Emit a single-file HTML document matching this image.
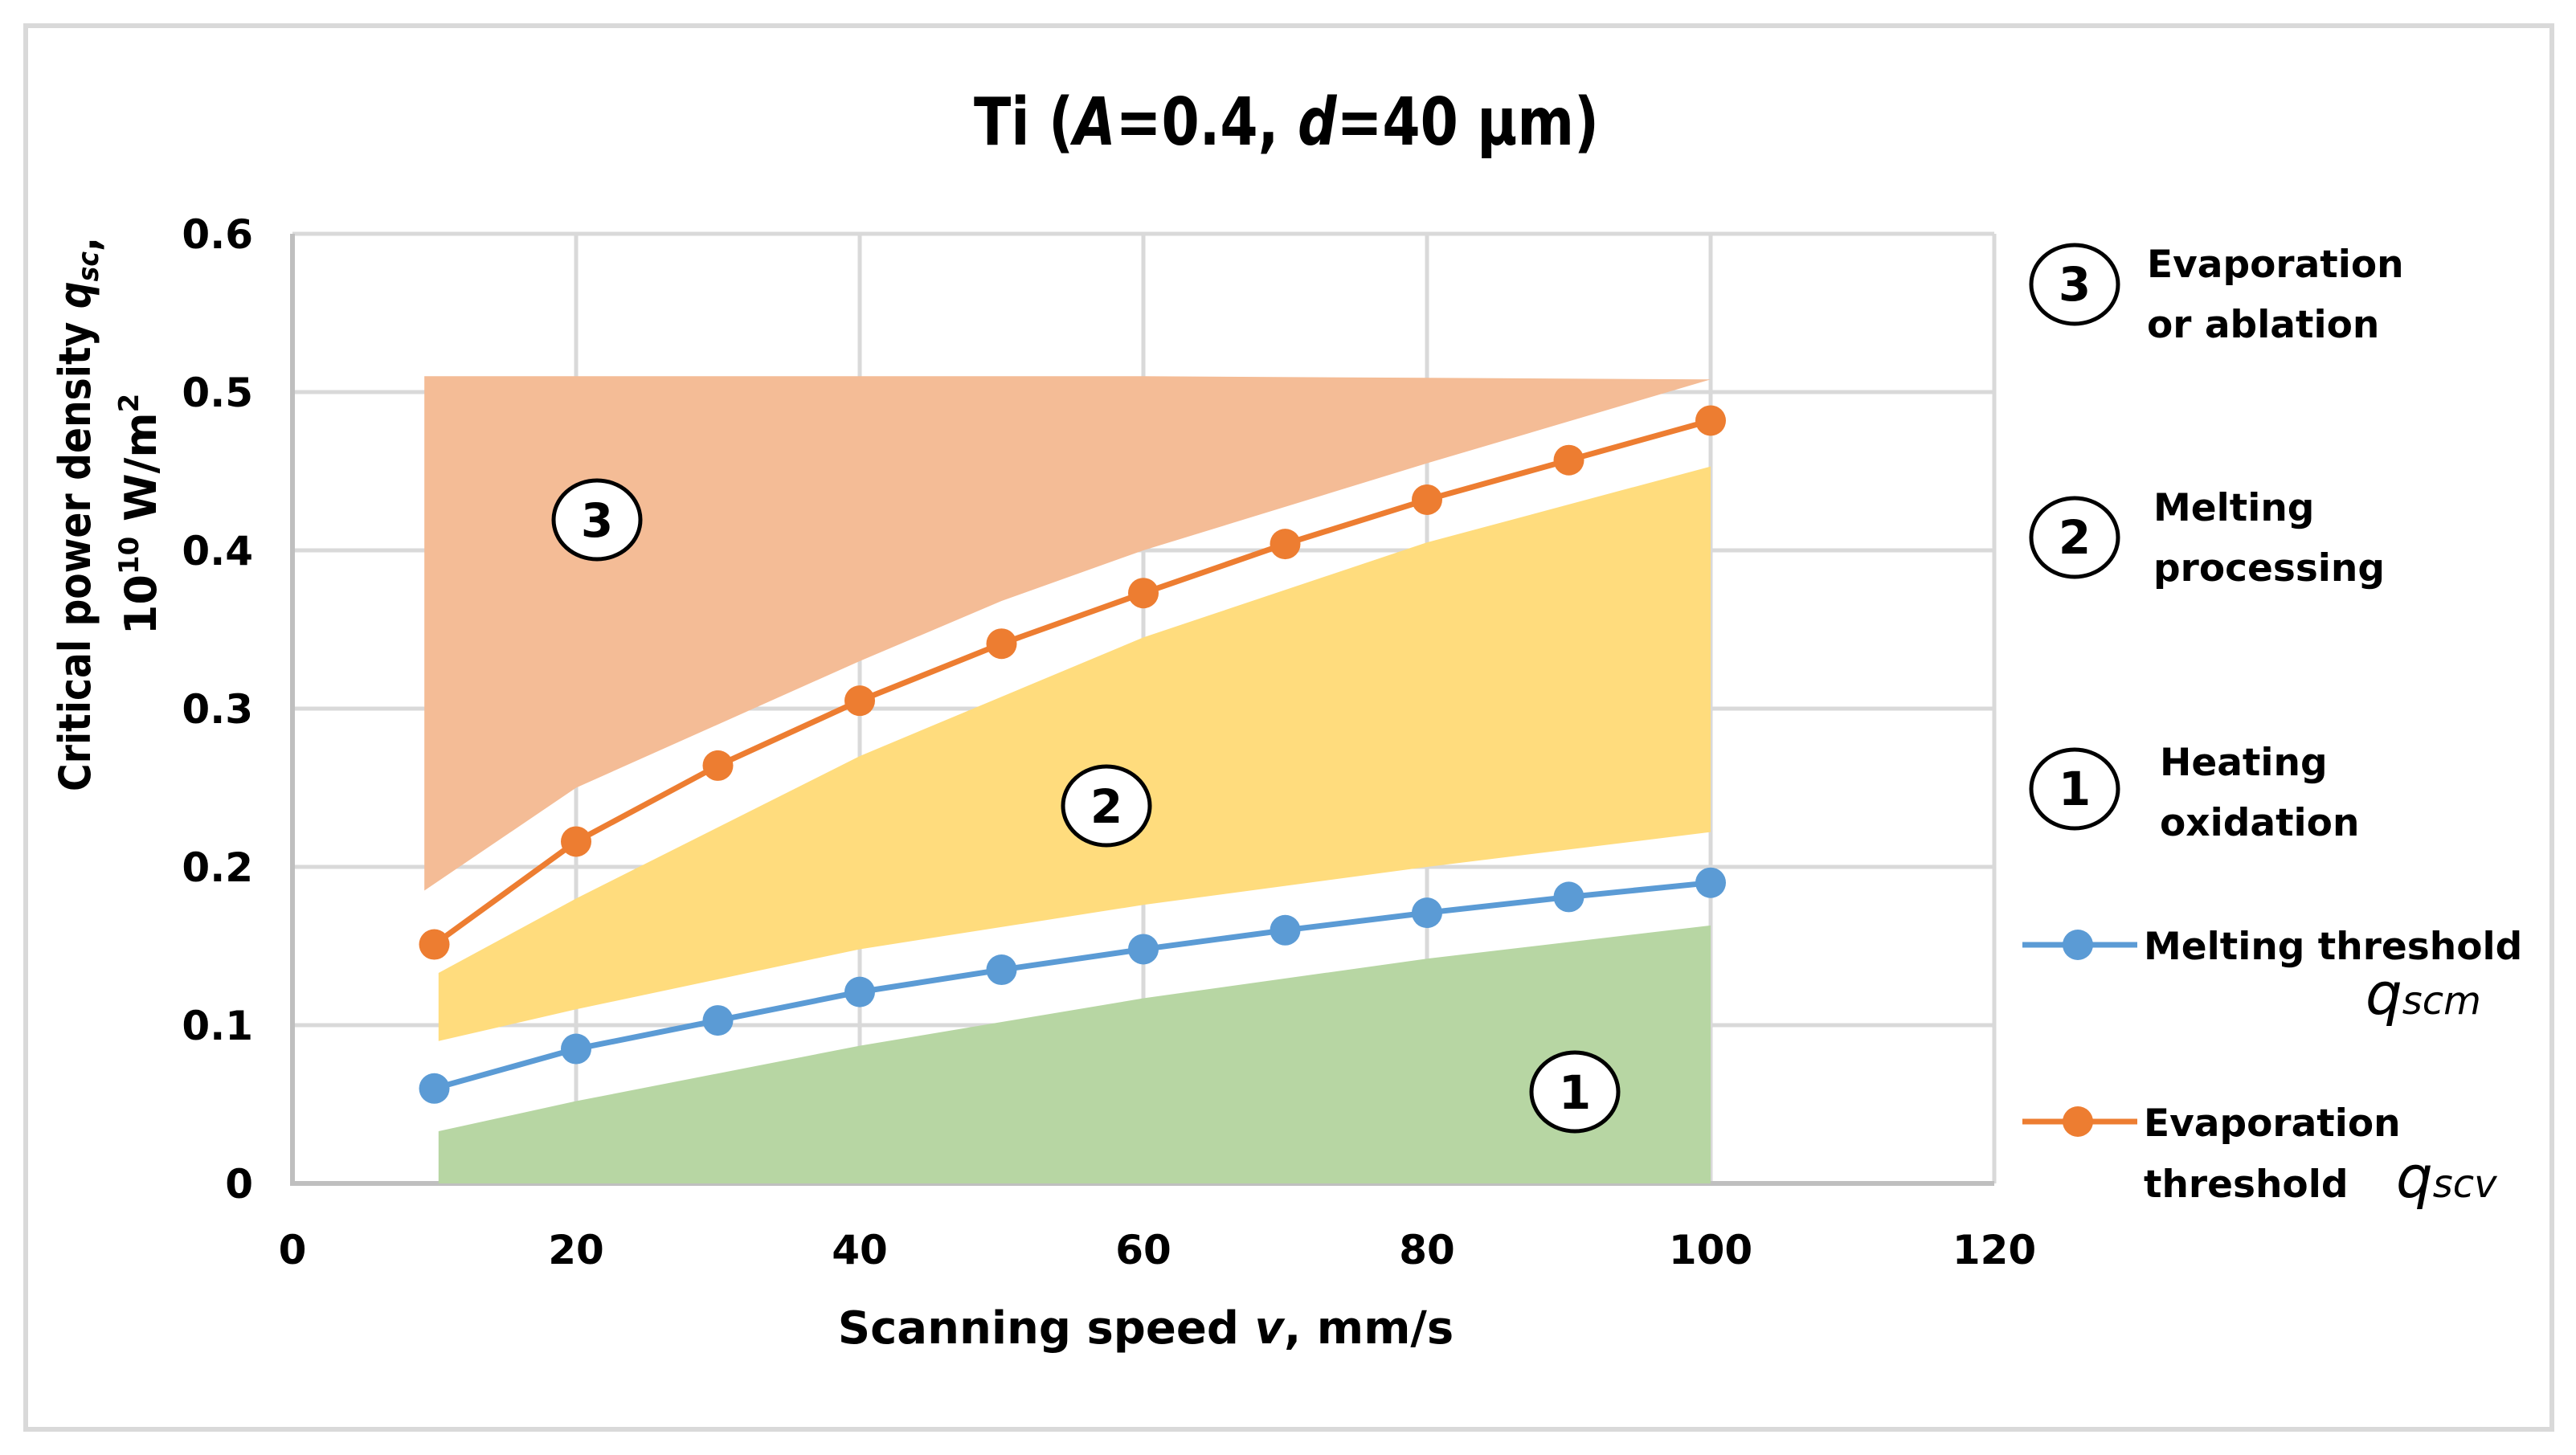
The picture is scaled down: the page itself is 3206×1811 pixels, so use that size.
<!DOCTYPE html>
<html><head><meta charset="utf-8"><style>
html,body{margin:0;padding:0;background:#fff;}
svg{display:block;}
text{font-family:"DejaVu Sans","Liberation Sans",sans-serif;}
</style></head><body>
<svg id="chart" width="3206" height="1811" viewBox="0 0 3206 1811" xmlns="http://www.w3.org/2000/svg">
<rect x="32" y="32" width="3144" height="1747" fill="#fff" stroke="#d9d9d9" stroke-width="6"/>
<text x="1601" y="180" text-anchor="middle" font-family="Liberation Sans, sans-serif" font-weight="bold" font-size="82" textLength="778" lengthAdjust="spacingAndGlyphs">Ti (<tspan font-style="italic">A</tspan>=0.4, <tspan font-style="italic">d</tspan>=40 μm)</text>
<g id="grid"></g>
<g id="regions"></g>
<g id="series"></g>
<g id="ticks"></g>
<text x="1426" y="1672" text-anchor="middle" font-family="Liberation Sans, sans-serif" font-weight="bold" font-size="56">Scanning speed <tspan font-style="italic">v</tspan>, mm/s</text>
<g transform="translate(112,640) rotate(-90)">
<text x="0" y="0" text-anchor="middle" font-family="Liberation Sans, sans-serif" font-weight="bold" font-size="54" textLength="690" lengthAdjust="spacingAndGlyphs">Critical power density <tspan font-style="italic">q<tspan font-size="36" dy="10">sc</tspan></tspan>,</text>
<text x="0" y="82" text-anchor="middle" font-family="Liberation Sans, sans-serif" font-weight="bold" font-size="54">10<tspan font-size="34" dy="-22">10</tspan><tspan dy="22"> W/m</tspan><tspan font-size="34" dy="-22">2</tspan></text>
</g>
<g id="labels"></g>
<g font-weight="bold" font-size="47">
<ellipse cx="2582" cy="354" rx="54" ry="49" fill="none" stroke="#000" stroke-width="5"/>
<text x="2582" y="374" text-anchor="middle" font-size="58">3</text>
<text x="2672" y="345">Evaporation</text>
<text x="2672" y="420">or ablation</text>
<ellipse cx="2582" cy="669" rx="54" ry="49" fill="none" stroke="#000" stroke-width="5"/>
<text x="2582" y="689" text-anchor="middle" font-size="58">2</text>
<text x="2680" y="648">Melting</text>
<text x="2680" y="723">processing</text>
<ellipse cx="2582" cy="982" rx="54" ry="49" fill="none" stroke="#000" stroke-width="5"/>
<text x="2582" y="1002" text-anchor="middle" font-size="58">1</text>
<text x="2688" y="965">Heating</text>
<text x="2688" y="1040">oxidation</text>
<g>
<line x1="2517" y1="1176" x2="2660" y2="1176" stroke="#5b9bd5" stroke-width="7"/>
<circle cx="2586" cy="1176" r="19" fill="#5b9bd5"/>
<text x="2668" y="1194">Melting threshold</text>
<text x="2944" y="1262" font-family="Liberation Serif, serif" font-style="italic" font-weight="normal" font-size="72">q<tspan font-size="48">scm</tspan></text>
</g>
<g>
<line x1="2517" y1="1396" x2="2660" y2="1396" stroke="#ed7d31" stroke-width="7"/>
<circle cx="2586" cy="1396" r="19" fill="#ed7d31"/>
<text x="2668" y="1414">Evaporation</text>
<text x="2668" y="1490">threshold</text>
<text x="2982" y="1490" font-family="Liberation Serif, serif" font-style="italic" font-weight="normal" font-size="72">q<tspan font-size="48">scv</tspan></text>
</g>
</g>
</svg>
<script>
const xTicks=[0,20,40,60,80,100,120];
const yTicks=[0,0.1,0.2,0.3,0.4,0.5,0.6];
const yTickLabels=["0","0.1","0.2","0.3","0.4","0.5","0.6"];
const speeds=[10,20,30,40,50,60,70,80,90,100];
const melting=[0.06,0.085,0.103,0.121,0.135,0.148,0.16,0.171,0.181,0.19];
const evaporation=[0.151,0.216,0.264,0.305,0.341,0.373,0.404,0.432,0.457,0.482];
const heatX=[10.3,20,40,60,80,100];
const heatTop=[0.033,0.052,0.087,0.117,0.142,0.163];
const meltX=[10.3,20,40,60,80,100];
const meltLow=[0.09,0.11,0.148,0.176,0.2,0.222];
const meltHigh=[0.133,0.18,0.27,0.345,0.405,0.453];
const evapX=[9.3,20,40,50,60,80,100];
const evapLow=[0.185,0.25,0.33,0.368,0.4,0.455,0.508];
const evapTop=[0.51,0.51,0.51,0.51,0.51,0.509,0.508];
const X0=364,X1=2482,Y0=1473,Y1=291;
const sx=v=>X0+(X1-X0)*v/120;
const sy=v=>Y0-(Y0-Y1)*v/0.6;
const NS="http://www.w3.org/2000/svg";
function mk(tag,parent,attrs){const e=document.createElementNS(NS,tag);for(const k in attrs)e.setAttribute(k,attrs[k]);parent.appendChild(e);return e;}
const grid=document.getElementById('grid'),ticks=document.getElementById('ticks');
yTicks.forEach((v,i)=>{
  const l=mk('line',grid,{x1:X0,x2:X1,y1:sy(v),y2:sy(v),stroke:'#d9d9d9','stroke-width':5});
  
  
  const t=mk('text',ticks,{x:315,y:sy(v)+18,'text-anchor':'end','font-weight':'bold','font-size':50});
  t.textContent=yTickLabels[i];
  
  
});
xTicks.forEach(v=>{
  const l=mk('line',grid,{x1:sx(v),x2:sx(v),y1:Y1,y2:Y0,stroke:'#d9d9d9','stroke-width':5});
  
  
  const t=mk('text',ticks,{x:sx(v),y:1573,'text-anchor':'middle','font-weight':'bold','font-size':50});
  t.textContent=String(v);
  
  
});
const ax=mk('path',grid,{d:`M${X0},${Y1}V${Y0}H${X1}`,fill:'none',stroke:'#bfbfbf','stroke-width':6});


const reg=document.getElementById('regions');
function band(xs,lo,hi,color,name){
  let d='M'+xs.map((x,i)=>sx(x)+','+sy(hi[i])).join('L');
  d+='L'+xs.slice().reverse().map((x,i)=>sx(x)+','+sy(lo[xs.length-1-i])).join('L')+'Z';
  const p=mk('path',reg,{d:d,fill:color});
  
  
}
band(heatX,heatX.map(()=>0),heatTop,'#b7d6a3','region-heating');
band(meltX,meltLow,meltHigh,'#ffdc7d','region-melting');
band(evapX,evapLow,evapTop,'#f4bc96','region-evaporation');
const ser=document.getElementById('series');
function series(vals,color,name){
  const pl=mk('polyline',ser,{points:speeds.map((s,i)=>sx(s)+','+sy(vals[i])).join(' '),fill:'none',stroke:color,'stroke-width':7});
  
  
  speeds.forEach((s,i)=>{
    const c=mk('circle',ser,{cx:sx(s),cy:sy(vals[i]),r:19,fill:color});
    
    
  });
}
series(melting,'#5b9bd5','melting-threshold');
series(evaporation,'#ed7d31','evaporation-threshold');
const lab=document.getElementById('labels');
[[743,647,'3'],[1377,1003,'2'],[1960,1359,'1']].forEach(a=>{
  const g=mk('g',lab,{});
  
  
  mk('ellipse',g,{cx:a[0],cy:a[1],rx:54,ry:49,fill:'#fff',stroke:'#000','stroke-width':5});
  const t=mk('text',g,{x:a[0],y:a[1]+21,'text-anchor':'middle','font-weight':'bold','font-size':58});
  t.textContent=a[2];
});
</script>
</body></html>
